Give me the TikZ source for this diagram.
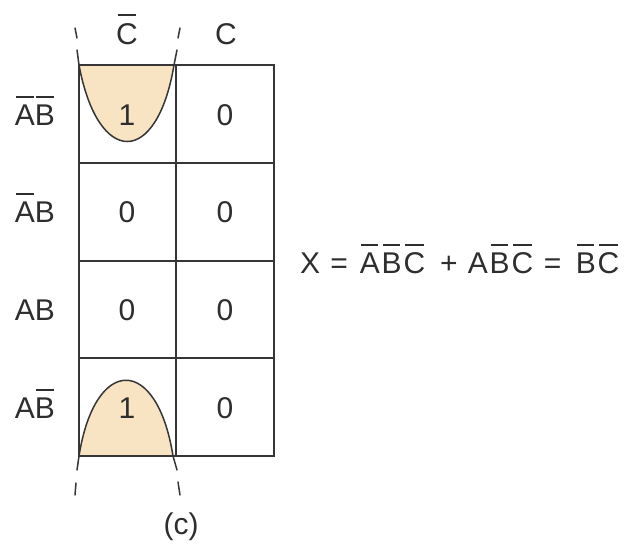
\documentclass[tikz,border=0pt]{standalone}
\usepackage{fontspec}
\setmainfont{Liberation Sans}
\definecolor{ink}{HTML}{2E2E2E}
\definecolor{gridink}{HTML}{363636}
\definecolor{loopfill}{HTML}{F8E3C2}
\newcommand{\ob}[1]{\setbox0\hbox{#1}\hbox{\rlap{\hbox to\wd0{\hss\vrule width\dimexpr\wd0-3pt\relax height\dimexpr\ht0+8.6pt\relax depth\dimexpr-\ht0-6.8pt\relax\hss}}\box0}}
\newcommand{\lk}{\kern1.8pt}
\begin{document}
\begin{tikzpicture}[x=1pt,y=-1pt,
  lbl/.style={font=\fontsize{30}{36}\selectfont, text=ink, inner sep=0pt, anchor=base},
  outer/.style={draw=gridink, line width=2.8pt},
  inner/.style={draw=gridink, line width=1.7pt},
  loopline/.style={draw=gridink, line width=1.5pt, line cap=round}]
\useasboundingbox (0,0) rectangle (627,546);
% loops
\fill[loopfill] (79,65) .. controls (98,167) and (157,167) .. (174,65) -- cycle;
\fill[loopfill] (79,456) .. controls (95,355) and (157,355) .. (173,456) -- cycle;
\draw[loopline] (77,50) -- (79,65) .. controls (98,167) and (157,167) .. (174,65) -- (177,50);
\draw[loopline] (75,28) -- (77,38);
\draw[loopline] (180,28) -- (178,38);
\draw[loopline] (77,470) -- (79,456) .. controls (95,355) and (157,355) .. (173,456) -- (177,470);
\draw[loopline] (76,483) -- (75,495);
\draw[loopline] (178,482) -- (180,495);
% grid
\draw[inner] (176,65) -- (176,456);
\draw[inner] (79,162.75) -- (274,162.75);
\draw[inner] (79,261) -- (274,261);
\draw[inner] (79,358.25) -- (274,358.25);
\draw[outer] (79,65) rectangle (274,456);
% column labels
\node[lbl] (cbar) at (127,44) {\ob{C}};
\node[lbl] (c) at (226,44) {C};
% row labels
\node[lbl] (r1) at (35,125) {\ob{A}\ob{B}};
\node[lbl] (r2) at (35,222.6) {\ob{A}B};
\node[lbl] (r3) at (35,320.4) {AB};
\node[lbl] (r4) at (35,418) {A\ob{B}};
% cells
\node[lbl] (m0) at (127,125) {1};
\node[lbl] (m1) at (225,125) {0};
\node[lbl] (m2) at (127,222.6) {0};
\node[lbl] (m3) at (225,222.6) {0};
\node[lbl] (m6) at (127,320.4) {0};
\node[lbl] (m7) at (225,320.4) {0};
\node[lbl] (m4) at (127,418) {1};
\node[lbl] (m5) at (225,418) {0};
% formula
\node[lbl, anchor=base west] (eq) at (300,273.5) {X\hspace{0.34em}=\hspace{0.4em}\ob{A}\lk\ob{B}\lk\ob{C}\hspace{0.5em}+\hspace{0.34em}A\lk\ob{B}\lk\ob{C}\hspace{0.36em}=\hspace{0.48em}\ob{B}\lk\ob{C}};
% caption
\node[lbl, anchor=center] (cap) at (181,527) {(c)};
\end{tikzpicture}
\end{document}
